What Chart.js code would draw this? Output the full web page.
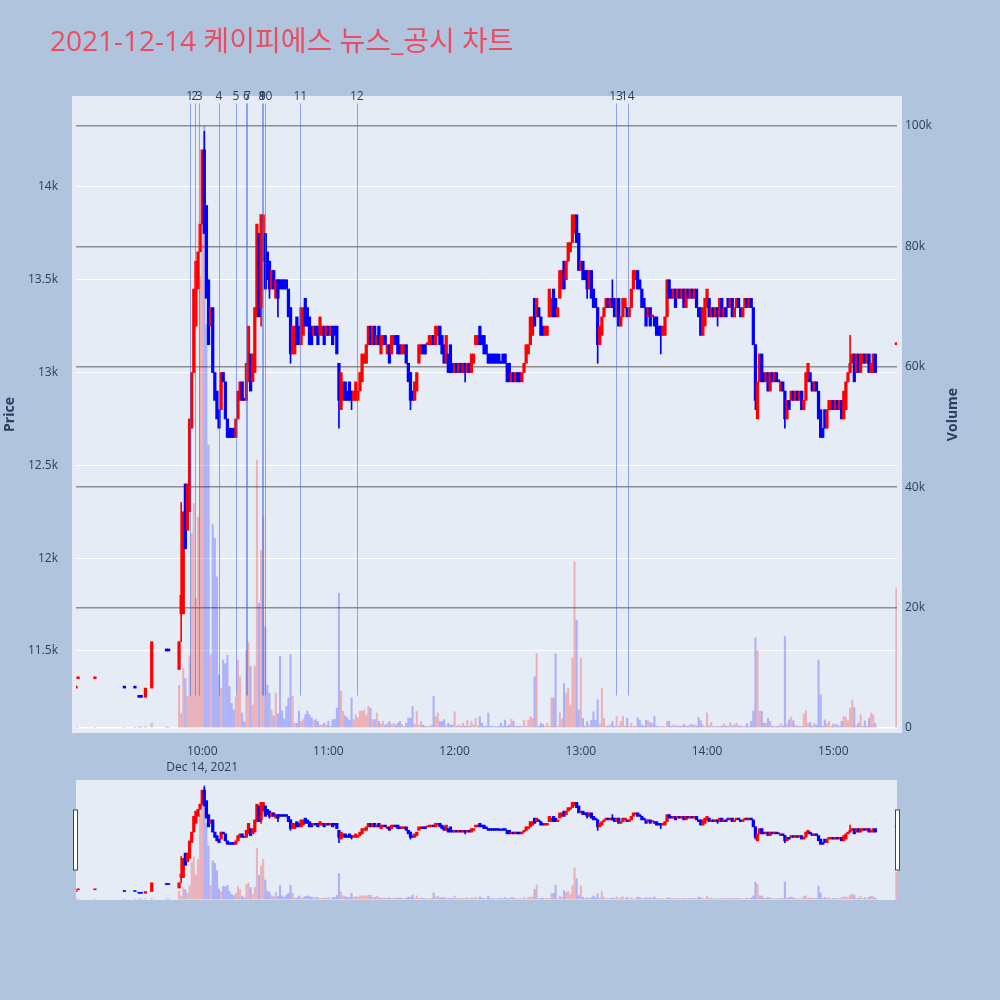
<!DOCTYPE html>
<html>
<head>
<meta charset="utf-8">
<script src="https://cdn.jsdelivr.net/npm/chart.js@4.4.1/dist/chart.umd.min.js"></script>
<style>
  html, body { margin: 0; padding: 0; background: #B0C4DE; }
  #wrap { position: relative; width: 1000px; height: 1000px; }
  #main { position: absolute; left: 0; top: 0; }
  #slider { position: absolute; left: 0; top: 770px; }
  #title {
    position: absolute; left: 50px; top: 21px; line-height: 38px;
    font-family: "Open Sans", "Noto Sans CJK KR", sans-serif; font-size: 28px;
    color: #EB4C62; white-space: nowrap;
  }
</style>
</head>
<body>
<div id="wrap">
  <canvas id="main" width="1000" height="1000"></canvas>
  <canvas id="slider" width="1000" height="140"></canvas>
  <div id="title">2021-12-14 케이피에스 뉴스_공시 차트</div>
</div>
<script>
// pre-session scattered trades
const earlyTimes = ['09:00', '09:01', '09:09', '09:23', '09:28', '09:30', '09:31', '09:33', '09:36', '09:43', '09:44'];
const earlyOpens = [11300, 11350, 11350, 11300, 11300, 11250, 11250, 11250, 11300, 11500, 11500];
const earlyCloses = [11300, 11350, 11350, 11300, 11300, 11250, 11250, 11300, 11550, 11500, 11500];
const earlyVolumes = [200, 100, 100, 100, 100, 200, 100, 300, 800, 200, 100];

// one candle per minute from 09:49 to 15:20
const sessionStart = '09:49';
const opens = [
  11400, 11700, 11700, 12400, 12150, 12250, 12700, 13000, 13250, 13450,
  13650, 13800, 14200, 13900, 13500, 13250, 13350, 13000, 12900, 12800,
  12800, 13000, 12950, 12750, 12700, 12700, 12700, 12650, 12750, 12850,
  12950, 12850, 12850, 12950, 13100, 12950, 13000, 13300, 13750, 13350,
  13600, 13750, 13650, 13600, 13450, 13550, 13400, 13500, 13500, 13500,
  13500, 13500, 13450, 13350, 13100, 13100, 13300, 13250, 13150, 13200,
  13400, 13350, 13300, 13250, 13200, 13250, 13250, 13200, 13200, 13250,
  13200, 13250, 13200, 13250, 13250, 13250, 13050, 12800, 12850, 12950,
  12900, 12950, 12900, 12850, 12850, 12850, 12900, 12950, 13050, 13050,
  13150, 13250, 13150, 13250, 13150, 13250, 13100, 13150, 13200, 13100,
  13150, 13100, 13150, 13200, 13200, 13150, 13100, 13100, 13150, 13050,
  13000, 12900, 12850, 12900, 13050, 13100, 13150, 13150, 13150, 13150,
  13150, 13200, 13150, 13200, 13250, 13200, 13150, 13050, 13100, 13150,
  13050, 13000, 13050, 13000, 13050, 13000, 13050, 13000, 13050, 13000,
  13050, 13150, 13150, 13250, 13200, 13200, 13150, 13100, 13100, 13100,
  13100, 13100, 13100, 13050, 13100, 13100, 13050, 13050, 12950, 13000,
  12950, 13000, 13000, 12950, 13000, 13050, 13100, 13150, 13200, 13400,
  13300, 13350, 13300, 13250, 13200, 13200, 13300, 13300, 13450, 13400,
  13300, 13400, 13450, 13600, 13500, 13600, 13650, 13700, 13750, 13850,
  13750, 13550, 13600, 13550, 13550, 13450, 13550, 13450, 13400, 13350,
  13150, 13200, 13300, 13350, 13400, 13350, 13400, 13400, 13300, 13400,
  13250, 13300, 13350, 13350, 13300, 13350, 13450, 13500, 13550, 13500,
  13450, 13400, 13350, 13300, 13350, 13300, 13300, 13300, 13250, 13250,
  13200, 13200, 13300, 13500, 13450, 13400, 13450, 13400, 13450, 13400,
  13450, 13350, 13450, 13400, 13450, 13400, 13450, 13350, 13350, 13200,
  13250, 13350, 13400, 13300, 13350, 13300, 13350, 13300, 13400, 13300,
  13350, 13400, 13350, 13400, 13300, 13350, 13400, 13350, 13300, 13350,
  13400, 13350, 13400, 13350, 13150, 12750, 12950, 13100, 13000, 12950,
  13000, 12900, 13000, 12950, 13000, 12950, 12900, 12950, 12900, 12750,
  12850, 12850, 12900, 12850, 12900, 12850, 12900, 12800, 12850, 12950,
  13000, 12950, 12900, 12950, 12900, 12800, 12700, 12800, 12700, 12800,
  12800, 12850, 12800, 12850, 12800, 12850, 12750, 12800, 12950, 13000,
  13050, 13100, 13000, 13100, 13000, 13050, 13100, 13050, 13100, 13000,
  13000, 13100
];
const closes = [
  11550, 11800, 12250, 12050, 12400, 12750, 13000, 13450, 13600, 13650,
  13800, 14200, 13750, 13400, 13150, 13350, 13000, 12850, 12750, 12700,
  13000, 12950, 12750, 12650, 12650, 12650, 12650, 12750, 12900, 12950,
  12850, 12850, 13050, 13250, 12900, 13100, 13350, 13800, 13300, 13850,
  13850, 13450, 13500, 13450, 13550, 13450, 13500, 13400, 13450, 13450,
  13450, 13450, 13300, 13100, 13250, 13250, 13150, 13150, 13350, 13350,
  13250, 13250, 13150, 13150, 13250, 13200, 13150, 13300, 13250, 13150,
  13250, 13200, 13250, 13150, 13200, 13100, 12850, 13000, 12950, 12850,
  12850, 12850, 12850, 12900, 12950, 12900, 13000, 13100, 13100, 13150,
  13250, 13150, 13250, 13150, 13200, 13150, 13200, 13200, 13150, 13150,
  13050, 13200, 13200, 13150, 13100, 13100, 13150, 13150, 13050, 12950,
  12850, 12850, 12950, 13000, 13150, 13150, 13100, 13100, 13150, 13200,
  13200, 13150, 13250, 13250, 13150, 13100, 13050, 13200, 13000, 13000,
  13000, 13050, 13000, 13050, 13000, 13050, 13000, 13050, 13000, 13100,
  13100, 13200, 13200, 13150, 13150, 13100, 13100, 13050, 13050, 13050,
  13050, 13050, 13050, 13050, 13050, 13050, 12950, 12950, 13000, 12950,
  13000, 12950, 12950, 13000, 13050, 13150, 13150, 13300, 13300, 13250,
  13400, 13300, 13200, 13200, 13250, 13250, 13450, 13400, 13300, 13300,
  13350, 13550, 13550, 13450, 13600, 13700, 13700, 13850, 13850, 13700,
  13550, 13600, 13500, 13500, 13450, 13550, 13400, 13350, 13350, 13150,
  13250, 13300, 13350, 13400, 13350, 13400, 13350, 13300, 13400, 13250,
  13300, 13400, 13400, 13300, 13350, 13450, 13550, 13550, 13450, 13450,
  13350, 13350, 13250, 13350, 13250, 13300, 13250, 13200, 13200, 13200,
  13250, 13300, 13500, 13400, 13400, 13450, 13350, 13450, 13400, 13450,
  13350, 13450, 13400, 13450, 13400, 13450, 13350, 13300, 13200, 13350,
  13400, 13450, 13300, 13350, 13300, 13350, 13300, 13400, 13300, 13350,
  13300, 13350, 13400, 13300, 13350, 13400, 13350, 13300, 13350, 13400,
  13350, 13400, 13350, 13150, 12850, 12950, 13100, 12950, 12950, 13000,
  12900, 13000, 12950, 13000, 12950, 12950, 12950, 12900, 12750, 12850,
  12800, 12900, 12850, 12900, 12850, 12900, 12800, 12850, 13000, 13050,
  12950, 12900, 12950, 12900, 12750, 12650, 12650, 12700, 12800, 12850,
  12850, 12800, 12850, 12800, 12850, 12750, 12900, 12950, 13000, 13050,
  13100, 12950, 13100, 13000, 13100, 13100, 13050, 13100, 13000, 13050,
  13100, 13000
];
const volumes = [
  7100, 2400, 9900, 8200, 5200, 12000, 32300, 37300, 21500, 35000,
  75000, 85000, 100000, 67000, 47000, 12100, 33800, 31500, 25100, 8800,
  6600, 11300, 10700, 12100, 6900, 4100, 3000, 5200, 11300, 8500,
  2500, 1000, 12900, 14200, 10200, 3800, 10300, 44500, 20700, 29500,
  35100, 16800, 7100, 5800, 3000, 2000, 5800, 2400, 11900, 2800,
  1500, 3600, 5000, 12200, 5300, 800, 800, 2800, 1100, 1400,
  2200, 2800, 2200, 1700, 1300, 1400, 1100, 500, 500, 800,
  500, 1100, 300, 1400, 1400, 3300, 22400, 6100, 2800, 2000,
  1700, 1300, 5000, 1400, 2200, 1700, 2800, 2800, 3000, 2200,
  3600, 3300, 1400, 1400, 2500, 1100, 700, 1100, 500, 800,
  1100, 600, 800, 500, 800, 1100, 600, 300, 800, 1700,
  1600, 3600, 600, 2800, 500, 1100, 500, 300, 200, 300,
  500, 5300, 1900, 2500, 1100, 1100, 1400, 500, 800, 500,
  500, 2700, 300, 500, 300, 800, 300, 1300, 300, 1100,
  500, 1600, 300, 1900, 800, 300, 300, 2500, 300, 300,
  200, 200, 300, 800, 300, 1300, 300, 500, 1500, 1100,
  300, 300, 300, 300, 1300, 300, 1300, 1900, 1600, 8500,
  12400, 300, 800, 600, 300, 800, 300, 5000, 5000, 12300,
  300, 2500, 1500, 7400, 5800, 6600, 3800, 11600, 27600, 17900,
  3000, 11600, 1600, 300, 1100, 500, 1300, 2700, 1300, 4700,
  700, 6600, 1600, 300, 300, 500, 1100, 300, 1900, 300,
  1100, 1900, 300, 1600, 300, 800, 300, 300, 1700, 1300,
  500, 300, 1300, 1200, 900, 800, 1900, 300, 200, 200,
  300, 200, 1100, 1100, 300, 500, 350, 350, 300, 300,
  600, 350, 300, 600, 500, 500, 300, 1750, 1200, 500,
  250, 2500, 350, 950, 250, 250, 250, 250, 300, 700,
  350, 250, 900, 350, 500, 800, 350, 300, 250, 300,
  700, 250, 1100, 2800, 15000, 12900, 2800, 2800, 800, 800,
  1600, 1100, 350, 250, 250, 300, 700, 350, 15200, 700,
  1350, 1800, 1200, 500, 250, 300, 250, 2300, 2900, 800,
  950, 350, 800, 500, 11300, 5500, 300, 1350, 700, 1100,
  300, 650, 650, 500, 300, 1100, 1900, 1800, 1200, 3300,
  4600, 3400, 350, 800, 2200, 300, 1200, 300, 1600, 2500,
  2200, 800
];

// closing auction
const auctionTime = '15:30';
const auctionPrice = 13150;
const auctionVolume = 23300;

// candles with visible wicks
const wickTimes = ['09:50', '10:01', '10:28', '10:32', '10:36', '10:42', '11:05', '11:11', '11:39', '12:05', '13:03', '13:08', '13:15', '13:38', '14:05', '14:23', '14:37', '15:08'];
const wickLows = [11550, 13750, 13250, 13400, 13300, 13050, 12700, 12800, 12800, 12950, 13400, 13050, 13350, 13100, 13250, 12800, 12700, 13000];
const wickHighs = [12300, 14300, 13850, 13600, 13500, 13350, 13050, 12900, 13000, 13050, 13550, 13350, 13500, 13250, 13350, 13150, 12900, 13200];

// news / disclosure markers
const newsLabels = ['1', '2', '3', '4', '5', '6', '7', '8', '9', '10', '11', '12', '13', '14'];
const newsTimes = ['09:54:00', '09:56:25', '09:58:35', '10:07:55', '10:16:00', '10:21:00', '10:21:30', '10:28:20', '10:28:40', '10:30:05', '10:46:40', '11:13:30', '13:16:45', '13:22:15'];

// axes
const priceTicks = [11500, 12000, 12500, 13000, 13500, 14000];
const volumeTicks = [0, 20000, 40000, 60000, 80000, 100000];
const xTickTimes = ['10:00', '11:00', '12:00', '13:00', '14:00', '15:00'];
const dateLabel = 'Dec 14, 2021';

const priceMin = 11058, priceMax = 14490;
const volMin = -830, volMax = 104980;
const xMin = 0, xMax = 390.3;
const newsTop = 14450, newsBottom = 11260;

const upColor = '#FF0000', downColor = '#0000FF';
const volUp = 'rgba(255,0,0,0.25)', volDown = 'rgba(0,0,255,0.25)';
const textColor = '#2a3f5f';

function toMin(t) {
  const p = t.split(':').map(Number);
  return (p[0] - 9) * 60 + p[1] + (p[2] || 0) / 60;
}

const candles = [];
earlyTimes.forEach((t, i) => candles.push({ x: toMin(t), o: earlyOpens[i], c: earlyCloses[i], v: earlyVolumes[i] }));
opens.forEach((o, i) => candles.push({ x: toMin(sessionStart) + i, o: o, c: closes[i], v: volumes[i] }));
candles.push({ x: toMin(auctionTime), o: auctionPrice, c: auctionPrice, v: auctionVolume });

// plotly style direction: equal open/close compares with previous close
let prevClose = null, prevUp = true;
candles.forEach(k => {
  let up;
  if (k.c > k.o) up = true;
  else if (k.c < k.o) up = false;
  else if (prevClose === null || k.c > prevClose) up = true;
  else if (k.c < prevClose) up = false;
  else up = prevUp;
  k.up = up;
  prevClose = k.c;
  prevUp = up;
});

function candleAt(x) {
  return candles.find(k => Math.abs(k.x - x) < 0.01);
}

function buildDatasets(minLen) {
  return [
    {
      label: 'body', yAxisID: 'y', order: 1, grouped: false,
      data: candles.map(k => ({ x: k.x, y: [k.o, k.c] })),
      backgroundColor: candles.map(k => k.up ? upColor : downColor),
      barThickness: 2.6, minBarLength: minLen
    },
    {
      label: 'wick', yAxisID: 'y', order: 2, grouped: false,
      data: wickTimes.map((t, i) => ({ x: toMin(t), y: [wickLows[i], wickHighs[i]] })),
      backgroundColor: wickTimes.map(t => { const k = candleAt(toMin(t)); return k && k.up ? upColor : downColor; }),
      barThickness: 1
    },
    {
      label: 'volume', yAxisID: 'y2', order: 3, grouped: false,
      data: candles.map(k => ({ x: k.x, y: k.v })),
      backgroundColor: candles.map(k => k.up ? volUp : volDown),
      barThickness: 1.4
    }
  ];
}

Chart.defaults.font.family = '"Open Sans", "Noto Sans CJK KR", sans-serif';
Chart.defaults.font.size = 12;
Chart.defaults.color = textColor;

const plotBg = {
  id: 'plotBg',
  beforeDraw(chart) {
    const { ctx, chartArea: a } = chart;
    ctx.save();
    ctx.fillStyle = '#E5ECF6';
    ctx.fillRect(a.left - 4, a.top, a.right - a.left + 9, a.bottom - a.top);
    ctx.restore();
  }
};

const newsMarks = {
  id: 'newsMarks',
  afterDatasetsDraw(chart) {
    const { ctx, chartArea: a, scales } = chart;
    const yTop = scales.y.getPixelForValue(newsTop);
    const yBot = scales.y.getPixelForValue(newsBottom);
    ctx.save();
    ctx.strokeStyle = 'rgba(70,100,230,0.55)';
    ctx.lineWidth = 1;
    newsTimes.forEach(t => {
      const x = Math.round(scales.x.getPixelForValue(toMin(t))) + 0.5;
      ctx.beginPath();
      ctx.moveTo(x, yTop);
      ctx.lineTo(x, yBot);
      ctx.stroke();
    });
    ctx.fillStyle = textColor;
    ctx.font = '12px "Open Sans", sans-serif';
    ctx.textAlign = 'center';
    ctx.textBaseline = 'middle';
    newsTimes.forEach((t, i) => {
      ctx.fillText(newsLabels[i], scales.x.getPixelForValue(toMin(t)), a.top + 1);
    });
    ctx.restore();
  }
};

const axisTitles = {
  id: 'axisTitles',
  afterDraw(chart) {
    const { ctx, chartArea: a } = chart;
    const cy = (a.top + a.bottom) / 2;
    ctx.save();
    ctx.fillStyle = textColor;
    ctx.font = 'bold 14px "Open Sans", sans-serif';
    ctx.textAlign = 'center';
    ctx.textBaseline = 'middle';
    [['Price', 10], ['Volume', 953]].forEach(([txt, x]) => {
      ctx.save();
      ctx.translate(x, cy);
      ctx.rotate(-Math.PI / 2);
      ctx.fillText(txt, 0, 0);
      ctx.restore();
    });
    ctx.restore();
  }
};

new Chart(document.getElementById('main'), {
  type: 'bar',
  data: { datasets: buildDatasets(2) },
  options: {
    responsive: false,
    animation: false,
    layout: { padding: { top: 96, bottom: 227, left: 0, right: 35 } },
    plugins: { legend: { display: false }, tooltip: { enabled: false } },
    scales: {
      x: {
        type: 'linear', min: xMin, max: xMax, offset: false,
        grid: { display: false, offset: false }, border: { display: false },
        afterBuildTicks: s => { s.ticks = xTickTimes.map(t => ({ value: toMin(t) })); },
        afterFit: s => { s.height = 40; },
        ticks: {
          padding: 2, maxRotation: 0, autoSkip: false,
          font: { size: 12, lineHeight: 1.35 },
          callback: (v, i) => i === 0 ? [xTickTimes[0], dateLabel] : xTickTimes[i]
        }
      },
      y: {
        position: 'left', min: priceMin, max: priceMax,
        grid: { color: '#FFFFFF', lineWidth: 1, drawTicks: false }, border: { display: false },
        afterBuildTicks: s => { s.ticks = priceTicks.map(v => ({ value: v })); },
        afterFit: s => { s.width = 76; },
        ticks: { padding: 18, callback: v => (v / 1000) + 'k' }
      },
      y2: {
        position: 'right', min: volMin, max: volMax,
        grid: {
          color: c => (c.tick && c.tick.value === 0) ? '#FFFFFF' : '#8E8E8E',
          lineWidth: 1.5, drawTicks: false
        },
        border: { display: false },
        afterBuildTicks: s => { s.ticks = volumeTicks.map(v => ({ value: v })); },
        afterFit: s => { s.width = 68; },
        ticks: { padding: 8, callback: v => v === 0 ? '0' : (v / 1000) + 'k' }
      }
    }
  },
  plugins: [plotBg, newsMarks, axisTitles]
});

const sliderDecor = {
  id: 'sliderDecor',
  beforeDraw(chart) {
    const { ctx, chartArea: a } = chart;
    ctx.save();
    ctx.fillStyle = '#E5ECF6';
    ctx.fillRect(a.left, a.top, a.right - a.left, a.bottom - a.top);
    ctx.restore();
  },
  afterDraw(chart) {
    const { ctx, chartArea: a } = chart;
    ctx.save();
    ctx.fillStyle = '#FFFFFF';
    ctx.strokeStyle = '#444444';
    ctx.lineWidth = 1;
    [a.left - 2, a.right - 1].forEach(x => {
      ctx.fillRect(x - 0.5, a.top + 30, 4, 60);
      ctx.strokeRect(x - 0.5, a.top + 30, 4, 60);
    });
    ctx.restore();
  }
};

new Chart(document.getElementById('slider'), {
  type: 'bar',
  data: { datasets: buildDatasets(1) },
  options: {
    responsive: false,
    animation: false,
    layout: { padding: { top: 10, bottom: 10, left: 76, right: 103 } },
    plugins: { legend: { display: false }, tooltip: { enabled: false } },
    scales: {
      x: { type: 'linear', display: false, min: xMin, max: xMax, offset: false, grid: { offset: false } },
      y: { display: false, min: priceMin, max: priceMax },
      y2: { display: false, position: 'right', min: volMin, max: volMax }
    }
  },
  plugins: [sliderDecor]
});
</script>
</body>
</html>
